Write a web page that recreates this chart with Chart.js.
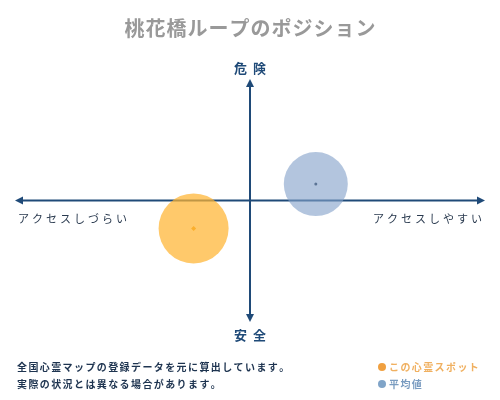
<!DOCTYPE html>
<html><head><meta charset="utf-8">
<script src="https://cdn.jsdelivr.net/npm/chart.js@4"></script>
<style>html,body{margin:0;padding:0;background:#fff;}#wrap{width:500px;height:400px;}</style>
</head><body><div id="wrap"><canvas id="c" width="500" height="400"></canvas></div>
<script>
const chartTitle = '桃花橋ループのポジション';
const categories = ['この心霊スポット', '平均値'];
const accessValues = [-2.4, 2.8];   // x: アクセスしづらい(-) ~ アクセスしやすい(+)
const dangerValues = [-2.3, 1.35];  // y: 安全(-) ~ 危険(+)
const bubbleSizes = [35, 32];
const axisLabels = { top: '危険', bottom: '安全', left: 'アクセスしづらい', right: 'アクセスしやすい' };
const noteLines = ['全国心霊マップの登録データを元に算出しています。', '実際の状況とは異なる場合があります。'];

const FONT = '"Noto Sans CJK JP", "Noto Sans", sans-serif';
const AXIS = '#1f4a78';
const fills = ['rgba(255,180,50,0.72)', 'rgba(132,162,202,0.62)'];
const dots = ['#f0a020', '#1a2a40'];
const legendDots = ['#f0a040', '#80a4c8'];
const legendText = ['#f0b060', '#7a9cc0'];

function spaced(ctx, text, x, y, spacing, align) {
  const widths = [...text].map(ch => ctx.measureText(ch).width);
  const total = widths.reduce((a, b) => a + b, 0) + spacing * (widths.length - 1);
  let sx = align === 'center' ? x - total / 2 : align === 'right' ? x - total : x;
  ctx.textAlign = 'left';
  [...text].forEach((ch, i) => { ctx.fillText(ch, sx, y); sx += widths[i] + spacing; });
}

const decor = {
  id: 'decor',
  beforeDatasetsDraw(chart) {
    const ctx = chart.ctx, xs = chart.scales.x, ys = chart.scales.y;
    const cx = xs.getPixelForValue(0), cy = ys.getPixelForValue(0);
    const l = xs.getPixelForValue(xs.min), r = xs.getPixelForValue(xs.max);
    const t = ys.getPixelForValue(ys.max), b = ys.getPixelForValue(ys.min);
    ctx.save();
    ctx.strokeStyle = AXIS; ctx.fillStyle = AXIS; ctx.lineWidth = 2;
    ctx.beginPath();
    ctx.moveTo(l + 5, cy); ctx.lineTo(r - 5, cy);
    ctx.moveTo(cx, t + 5); ctx.lineTo(cx, b - 5);
    ctx.stroke();
    const head = (x, y, dx, dy) => {
      const px = -dy, py = dx;
      ctx.beginPath();
      ctx.moveTo(x, y);
      ctx.lineTo(x - dx * 8 + px * 4, y - dy * 8 + py * 4);
      ctx.lineTo(x - dx * 8 - px * 4, y - dy * 8 - py * 4);
      ctx.closePath(); ctx.fill();
    };
    head(l, cy, -1, 0); head(r, cy, 1, 0); head(cx, t, 0, -1); head(cx, b, 0, 1);
    ctx.restore();
  },
  afterDraw(chart) {
    const ctx = chart.ctx, xs = chart.scales.x, ys = chart.scales.y;
    const cx = xs.getPixelForValue(0), cy = ys.getPixelForValue(0);
    ctx.save();
    ctx.textBaseline = 'middle';
    ctx.fillStyle = '#999999';
    ctx.font = 'bold 20px ' + FONT;
    spaced(ctx, chartTitle, 250, 28, 1, 'center');
    ctx.fillStyle = AXIS;
    ctx.font = 'bold 13px ' + FONT;
    spaced(ctx, axisLabels.top, cx, 68, 6, 'center');
    spaced(ctx, axisLabels.bottom, cx, 335, 6, 'center');
    ctx.fillStyle = '#2a3a4f';
    ctx.font = '11px ' + FONT;
    spaced(ctx, axisLabels.left, 18, cy + 18, 3, 'left');
    spaced(ctx, axisLabels.right, 482, cy + 18, 3, 'right');
    ctx.fillStyle = '#1e3450';
    ctx.font = 'bold 10px ' + FONT;
    spaced(ctx, noteLines[0], 17, 367, 1.4, 'left');
    spaced(ctx, noteLines[1], 17, 384, 1.4, 'left');
    categories.forEach((name, i) => {
      const y = 367 + i * 17;
      ctx.fillStyle = legendDots[i];
      ctx.beginPath(); ctx.arc(382, y, 4, 0, Math.PI * 2); ctx.fill();
      ctx.fillStyle = legendText[i];
      spaced(ctx, name, 389, y, 1.4, 'left');
    });
    ctx.restore();
  }
};

new Chart(document.getElementById('c'), {
  type: 'bubble',
  data: {
    datasets: [
      ...categories.map((name, i) => ({
        label: name,
        data: [{ x: accessValues[i], y: dangerValues[i], r: bubbleSizes[i] }],
        backgroundColor: fills[i], borderWidth: 0, hoverRadius: 0
      })),
      ...categories.map((name, i) => ({
        type: 'scatter',
        label: name + ' center',
        data: [{ x: accessValues[i], y: dangerValues[i] }],
        pointStyle: i === 0 ? 'rectRot' : 'circle',
        pointRadius: i === 0 ? 2.5 : 1.5,
        backgroundColor: dots[i], borderWidth: 0
      }))
    ]
  },
  options: {
    responsive: false,
    animation: false,
    devicePixelRatio: 1,
    layout: { autoPadding: false, padding: { left: 15, right: 15, top: 79, bottom: 78 } },
    scales: {
      x: { display: false, min: -10, max: 10 },
      y: { display: false, min: -10, max: 10 }
    },
    plugins: { legend: { display: false }, tooltip: { enabled: false }, title: { display: false } }
  },
  plugins: [decor]
});
</script>
</body></html>
